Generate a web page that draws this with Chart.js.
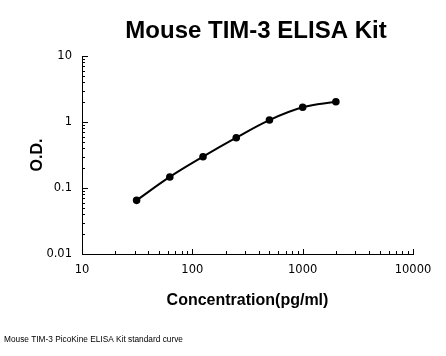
<!DOCTYPE html>
<html>
<head>
<meta charset="utf-8">
<script src="https://cdn.jsdelivr.net/npm/chart.js@4/dist/chart.umd.min.js"></script>
<style>
html,body{margin:0;padding:0;background:#fff;}
#wrap{width:446px;height:356px;position:relative;}
</style>
</head>
<body>
<div id="wrap"><canvas id="c" width="446" height="356"></canvas></div>
<script>
const chartTitle = "Mouse TIM-3 ELISA Kit";
const footnote = "Mouse TIM-3 PicoKine ELISA Kit standard curve";
const xAxisTitle = "Concentration(pg/ml)";
const yAxisTitle = "O.D.";
const concentrations = [31.25, 62.5, 125, 250, 500, 1000, 2000];
const odValues = [0.065, 0.147, 0.298, 0.578, 1.07, 1.67, 2.03];
const xTickLabels = [10, 100, 1000, 10000];
const yTickLabels = [0.01, 0.1, 1, 10];

function decadeTicks(majors) {
  const out = [];
  for (let i = 0; i < majors.length; i++) {
    out.push({value: majors[i], major: true});
    if (i < majors.length - 1) {
      for (let m = 2; m <= 9; m++) out.push({value: majors[i] * m, major: false});
    }
  }
  return out;
}

const extras = {
  id: 'extras',
  afterDraw(chart) {
    const ctx = chart.ctx;
    const xs = chart.scales.x, ys = chart.scales.y;
    const a = chart.chartArea;
    ctx.save();
    ctx.strokeStyle = '#000';
    ctx.lineWidth = 1;
    ctx.beginPath();
    decadeTicks(yTickLabels).forEach(t => {
      const y = Math.round(ys.getPixelForValue(t.value)) + 0.5;
      const len = t.major ? 6 : 3;
      ctx.moveTo(a.left, y); ctx.lineTo(a.left + len, y);
    });
    decadeTicks(xTickLabels).forEach(t => {
      const x = Math.round(xs.getPixelForValue(t.value)) + 0.5;
      const len = t.major ? 5 : 3;
      ctx.moveTo(x, a.bottom); ctx.lineTo(x, a.bottom - len);
    });
    ctx.stroke();
    ctx.fillStyle = '#000';
    ctx.textAlign = 'center';
    ctx.textBaseline = 'middle';
    ctx.font = 'bold 24px "Liberation Sans", Arial, sans-serif';
    ctx.fillText(chartTitle, 256, 31);
    ctx.textAlign = 'left';
    ctx.font = '8.3px "Liberation Sans", Arial, sans-serif';
    ctx.fillText(footnote, 4, 340);
    ctx.restore();
  }
};

new Chart(document.getElementById('c'), {
  type: 'scatter',
  data: {
    datasets: [{
      data: concentrations.map((c, i) => ({x: c, y: odValues[i]})),
      showLine: true,
      tension: 0.4,
      borderColor: '#000',
      backgroundColor: '#000',
      borderWidth: 2,
      pointRadius: 2.8,
      pointBackgroundColor: '#000',
      pointBorderColor: '#000'
    }]
  },
  options: {
    responsive: false,
    animation: false,
    layout: {padding: {top: 56, right: 33, bottom: 0, left: 0}},
    plugins: {legend: {display: false}, title: {display: false}, tooltip: {enabled: false}},
    scales: {
      x: {
        type: 'logarithmic',
        min: 10, max: 10000,
        afterBuildTicks: s => { s.ticks = xTickLabels.map(v => ({value: v})); },
        afterFit: s => { s.height = 102; },
        grid: {display: false, drawTicks: false},
        border: {display: true, color: '#000', width: 1},
        ticks: {
          autoSkip: false, maxRotation: 0, padding: 9, color: '#000',
          font: {family: '"DejaVu Sans", Verdana, sans-serif', size: 11.5},
          callback: v => String(v)
        },
        title: {
          display: true, text: xAxisTitle, color: '#000',
          font: {family: '"Liberation Sans", Arial, sans-serif', size: 16, weight: 'bold'},
          padding: {top: 0, bottom: 46}
        }
      },
      y: {
        type: 'logarithmic',
        min: 0.01, max: 10,
        afterBuildTicks: s => { s.ticks = yTickLabels.map(v => ({value: v})); },
        afterFit: s => { s.width = 82; },
        grid: {display: false, drawTicks: false},
        border: {display: true, color: '#000', width: 1},
        ticks: {
          autoSkip: false, padding: 10, color: '#000',
          font: {family: '"DejaVu Sans", Verdana, sans-serif', size: 11.5},
          callback: v => String(v)
        },
        title: {
          display: true, text: yAxisTitle, color: '#000',
          font: {family: '"Liberation Sans", Arial, sans-serif', size: 16, weight: 'bold'},
          padding: {top: 28, bottom: 0}
        }
      }
    }
  },
  plugins: [extras]
});
</script>
</body>
</html>
